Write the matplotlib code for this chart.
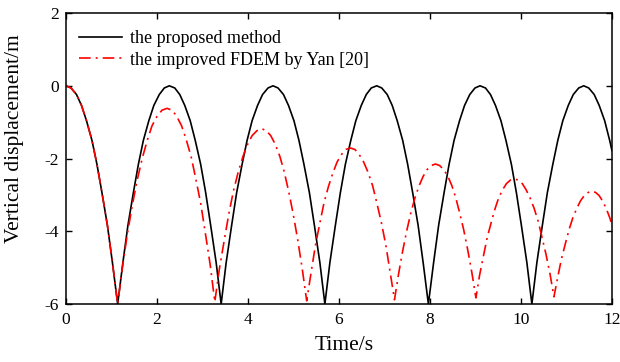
import matplotlib
matplotlib.use("Agg")
import matplotlib.pyplot as plt

plt.rcParams['font.family'] = ['Liberation Serif', 'DejaVu Serif']
plt.rcParams['axes.unicode_minus'] = False

# ---- data ----
t_proposed = [0.00, 0.11, 0.23, 0.34, 0.45, 0.57, 0.68, 0.79, 0.91, 1.02, 1.135,
              1.25, 1.36, 1.48, 1.59, 1.70, 1.82, 1.93, 2.05, 2.16, 2.27,
              2.39, 2.50, 2.61, 2.73, 2.84, 2.96, 3.07, 3.18, 3.30, 3.41,
              3.52, 3.64, 3.75, 3.87, 3.98, 4.09, 4.21, 4.32, 4.44, 4.55,
              4.66, 4.78, 4.89, 5.01, 5.12, 5.23, 5.35, 5.46, 5.58, 5.69,
              5.80, 5.92, 6.03, 6.14, 6.26, 6.37, 6.49, 6.60, 6.71, 6.83,
              6.94, 7.06, 7.17, 7.28, 7.40, 7.51, 7.62, 7.74, 7.85, 7.965,
              8.08, 8.19, 8.31, 8.42, 8.53, 8.65, 8.76, 8.875, 8.99, 9.10,
              9.22, 9.33, 9.44, 9.56, 9.67, 9.79, 9.90, 10.01, 10.13, 10.24,
              10.35, 10.47, 10.58, 10.70, 10.81, 10.92, 11.04, 11.15, 11.27, 11.38,
              11.49, 11.61, 11.72, 11.84, 11.95, 12.00]
y_proposed = [0.00, -0.06, -0.24, -0.54, -0.96, -1.50, -2.16, -2.94, -3.84, -4.86, -6.00,
              -4.86, -3.84, -2.94, -2.16, -1.50, -0.96, -0.54, -0.24, -0.06, 0.00,
              -0.06, -0.24, -0.54, -0.96, -1.50, -2.16, -2.94, -3.84, -4.86, -6.00,
              -4.86, -3.84, -2.94, -2.16, -1.50, -0.96, -0.54, -0.24, -0.06, 0.00,
              -0.06, -0.24, -0.54, -0.96, -1.50, -2.16, -2.94, -3.84, -4.86, -6.00,
              -4.86, -3.84, -2.94, -2.16, -1.50, -0.96, -0.54, -0.24, -0.06, 0.00,
              -0.06, -0.24, -0.54, -0.96, -1.50, -2.16, -2.94, -3.84, -4.86, -6.00,
              -4.86, -3.84, -2.94, -2.16, -1.50, -0.96, -0.54, -0.24, -0.06, 0.00,
              -0.06, -0.24, -0.54, -0.96, -1.50, -2.16, -2.94, -3.84, -4.86, -6.00,
              -4.86, -3.84, -2.94, -2.16, -1.50, -0.96, -0.54, -0.24, -0.06, 0.00,
              -0.06, -0.24, -0.54, -0.96, -1.50, -1.78]

t_yan = [0.00, 0.11, 0.23, 0.34, 0.45, 0.57, 0.68, 0.79, 0.91, 1.02, 1.135,
         1.24, 1.35, 1.46, 1.57, 1.68, 1.79, 1.89, 2.00, 2.11, 2.22,
         2.33, 2.43, 2.54, 2.64, 2.75, 2.85, 2.96, 3.06, 3.17, 3.27,
         3.37, 3.48, 3.58, 3.68, 3.785, 3.89, 3.99, 4.09, 4.20, 4.30,
         4.40, 4.50, 4.60, 4.70, 4.795, 4.89, 4.99, 5.09, 5.19, 5.29,
         5.39, 5.48, 5.58, 5.67, 5.77, 5.87, 5.96, 6.06, 6.15, 6.25,
         6.35, 6.44, 6.54, 6.64, 6.74, 6.83, 6.93, 7.03, 7.12, 7.22,
         7.31, 7.40, 7.49, 7.58, 7.67, 7.76, 7.85, 7.94, 8.03, 8.12,
         8.21, 8.30, 8.39, 8.48, 8.565, 8.65, 8.74, 8.83, 8.92, 9.01,
         9.09, 9.18, 9.26, 9.35, 9.43, 9.51, 9.60, 9.68, 9.77, 9.85,
         9.94, 10.03, 10.11, 10.20, 10.29, 10.38, 10.46, 10.55, 10.64, 10.725,
         10.81, 10.89, 10.98, 11.06, 11.14, 11.23, 11.31, 11.39, 11.48, 11.56,
         11.64, 11.72, 11.79, 11.87, 11.95, 12.00]
y_yan = [0.00, -0.06, -0.24, -0.54, -0.96, -1.50, -2.16, -2.94, -3.84, -4.86, -6.00,
         -4.98, -4.06, -3.26, -2.56, -1.97, -1.48, -1.10, -0.84, -0.67, -0.62,
         -0.67, -0.83, -1.10, -1.47, -1.95, -2.54, -3.23, -4.03, -4.93, -5.94,
         -5.04, -4.23, -3.51, -2.89, -2.37, -1.94, -1.61, -1.37, -1.23, -1.18,
         -1.23, -1.37, -1.61, -1.94, -2.36, -2.88, -3.50, -4.21, -5.01, -5.91,
         -5.11, -4.40, -3.77, -3.22, -2.76, -2.38, -2.09, -1.88, -1.75, -1.71,
         -1.75, -1.88, -2.09, -2.38, -2.75, -3.21, -3.75, -4.38, -5.09, -5.88,
         -5.17, -4.54, -3.98, -3.49, -3.08, -2.75, -2.49, -2.30, -2.19, -2.15,
         -2.19, -2.30, -2.48, -2.74, -3.07, -3.48, -3.95, -4.51, -5.13, -5.83,
         -5.21, -4.65, -4.16, -3.74, -3.38, -3.08, -2.85, -2.69, -2.59, -2.56,
         -2.59, -2.69, -2.85, -3.08, -3.37, -3.73, -4.15, -4.63, -5.18, -5.80,
         -5.25, -4.76, -4.32, -3.94, -3.63, -3.36, -3.16, -3.02, -2.93, -2.90,
         -2.93, -3.02, -3.16, -3.36, -3.62, -3.82]

label_proposed = "the proposed method"
label_yan = "the improved FDEM by Yan [20]"
x_ticks = [0, 2, 4, 6, 8, 10, 12]
y_ticks = [-6, -4, -2, 0, 2]

fig = plt.figure(figsize=(6.2, 3.62), dpi=100)
ax = fig.add_axes([0.1065, 0.160, 0.8805, 0.804])

ax.plot(t_proposed, y_proposed, color='black', lw=1.2, label=label_proposed)
ax.plot(t_yan, y_yan, color='red', lw=1.2, linestyle=(0, (7, 3, 1.2, 3)),
        label=label_yan)

ax.set_xlim(0, 12)
ax.set_ylim(-6, 2)
ax.set_xticks(x_ticks)
ax.set_yticks(y_ticks)
ax.tick_params(direction='in', length=4.5, width=1.0, top=True, right=True,
               labelsize=12.5)
ax.tick_params(axis='x', pad=6)
ax.tick_params(axis='y', pad=5)
for s in ax.spines.values():
    s.set_linewidth(1.1)

ax.set_xlabel("Time/s", fontsize=15.5, labelpad=6)
ax.set_ylabel("Vertical displacement/m", fontsize=15.5)
ax.yaxis.set_label_coords(-0.077, 0.567)
ax.xaxis.set_label_coords(0.509, -0.108)

leg = ax.legend(loc='upper left', frameon=False, fontsize=13,
                handlelength=2.4, handletextpad=0.45, labelspacing=0.25,
                borderaxespad=0.3, bbox_to_anchor=(0.0, 0.985))

fig.savefig("out.png", dpi=100)
